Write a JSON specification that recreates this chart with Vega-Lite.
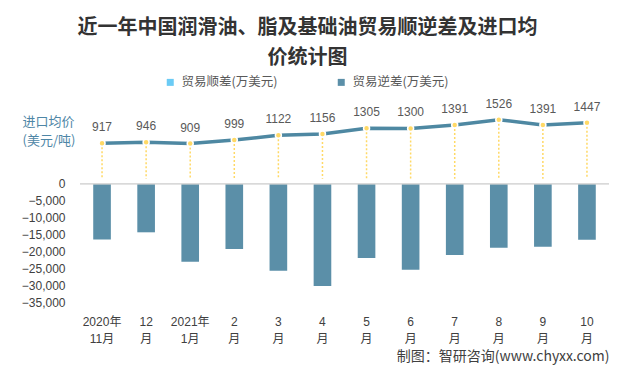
{
  "$schema": "https://vega.github.io/schema/vega-lite/v6.json",
  "autosize": "none",
  "width": 529,
  "height": 203,
  "padding": {"left": 80, "top": 99, "right": 8, "bottom": 68},
  "background": "white",
  "title": {
    "text": "近一年中国润滑油、脂及基础油贸易顺逆差及进口均",
    "subtitle": "价统计图",
    "fontSize": 20,
    "fontWeight": "bold",
    "font": "Noto Sans CJK SC",
    "color": "#333333",
    "subtitleFontSize": 20,
    "subtitleFontWeight": "bold",
    "subtitleFont": "Noto Sans CJK SC",
    "subtitleColor": "#333333",
    "subtitlePadding": 10,
    "anchor": "middle",
    "frame": "group",
    "dx": -37,
    "offset": 8
  },
  "data": {
    "values": [
      {"m": "2020年 11月", "deficit": -16500, "price": 917, "series": "贸易逆差(万美元)"},
      {"m": "12 月", "deficit": -14400, "price": 946, "series": "贸易逆差(万美元)"},
      {"m": "2021年 1月", "deficit": -23100, "price": 909, "series": "贸易逆差(万美元)"},
      {"m": "2 月", "deficit": -19300, "price": 999, "series": "贸易逆差(万美元)"},
      {"m": "3 月", "deficit": -25800, "price": 1122, "series": "贸易逆差(万美元)"},
      {"m": "4 月", "deficit": -30300, "price": 1156, "series": "贸易逆差(万美元)"},
      {"m": "5 月", "deficit": -22000, "price": 1305, "series": "贸易逆差(万美元)"},
      {"m": "6 月", "deficit": -25500, "price": 1300, "series": "贸易逆差(万美元)"},
      {"m": "7 月", "deficit": -21100, "price": 1391, "series": "贸易逆差(万美元)"},
      {"m": "8 月", "deficit": -19000, "price": 1526, "series": "贸易逆差(万美元)"},
      {"m": "9 月", "deficit": -18700, "price": 1391, "series": "贸易逆差(万美元)"},
      {"m": "10 月", "deficit": -16600, "price": 1447, "series": "贸易逆差(万美元)"}
    ]
  },
  "encoding": {
    "x": {
      "field": "m",
      "type": "nominal",
      "sort": null,
      "scale": {"paddingInner": 0.6, "paddingOuter": 0.3},
      "axis": {
        "title": "制图：智研咨询(www.chyxx.com)",
        "titleAnchor": "end",
        "titleAlign": "right",
        "titleFontSize": 14,
        "titleFontWeight": "normal",
        "titleColor": "#404040",
        "titleFont": "Noto Sans CJK SC",
        "titlePadding": 5,
        "labelAngle": 0,
        "labelExpr": "split(datum.label, ' ')",
        "labelFontSize": 12,
        "labelColor": "#404040",
        "labelFont": "Liberation Sans, Noto Sans CJK SC",
        "labelLineHeight": 17,
        "labelBaseline": "top",
        "labelPadding": 14,
        "domain": false,
        "ticks": false,
        "grid": false
      }
    }
  },
  "layer": [
    {
      "layer": [
        {
          "mark": {"type": "bar"},
          "encoding": {
            "y": {
              "field": "deficit",
              "type": "quantitative",
              "scale": {"domain": [-35000, 25000], "nice": false, "zero": false},
              "axis": {
                "title": null,
                "values": [0, -5000, -10000, -15000, -20000, -25000, -30000, -35000],
                "format": ",.0f",
                "labelOverlap": false,
                "labelFontSize": 12,
                "labelColor": "#404040",
                "labelFont": "Liberation Sans",
                "labelPadding": 15,
                "domain": false,
                "ticks": false,
                "grid": false
              }
            },
            "color": {
              "field": "series",
              "type": "nominal",
              "scale": {"domain": ["贸易顺差(万美元)", "贸易逆差(万美元)"], "range": ["#6BCBF5", "#5B8FA8"]},
              "legend": {
                "orient": "none",
                "legendX": 84,
                "legendY": -23,
                "direction": "horizontal",
                "title": null,
                "symbolType": "square",
                "symbolSize": 49,
                "symbolStrokeWidth": 0,
                "labelFontSize": 12.5,
                "labelColor": "#595959",
                "labelFont": "Noto Sans CJK SC",
                "columnPadding": 57,
                "padding": 0,
                "labelOffset": 5
              }
            }
          }
        },
        {
          "mark": {"type": "rule", "color": "#D9D9D9", "strokeWidth": 1},
          "encoding": {
            "y": {
              "datum": 0,
              "type": "quantitative",
              "axis": {
                "title": null,
                "values": [0, -5000, -10000, -15000, -20000, -25000, -30000, -35000],
                "format": ",.0f",
                "labelOverlap": false,
                "labelFontSize": 12,
                "labelColor": "#404040",
                "labelFont": "Liberation Sans",
                "labelPadding": 15,
                "domain": false,
                "ticks": false,
                "grid": false
              }
            },
            "x": null
          }
        }
      ]
    },
    {
      "encoding": {
        "y": {
          "field": "price",
          "type": "quantitative",
          "scale": {"domain": [-3180, 2059], "nice": false, "zero": false},
          "axis": {
            "orient": "right",
            "title": ["进口均价", "(美元/吨)"],
            "titleAngle": 0,
            "titleX": -587,
            "titleY": 16,
            "titleAlign": "left",
            "titleBaseline": "top",
            "titleFontSize": 13,
            "titleFontWeight": "normal",
            "titleColor": "#4E86A6",
            "titleFont": "Noto Sans CJK SC",
            "titleLineHeight": 19,
            "labels": false,
            "ticks": false,
            "domain": false,
            "grid": false
          }
        }
      },
      "layer": [
        {
          "mark": {"type": "rule", "color": "#FFD966", "strokeWidth": 1.5, "strokeDash": [2, 2]},
          "encoding": {"y2": {"datum": 0}}
        },
        {
          "mark": {"type": "line", "color": "#4E88A2", "strokeWidth": 3.5}
        },
        {
          "mark": {"type": "point", "filled": true, "fill": "#FFD966", "size": 36, "stroke": "white", "strokeWidth": 1.5, "opacity": 1}
        },
        {
          "mark": {"type": "text", "dy": -16, "baseline": "middle", "fontSize": 12, "color": "#595959", "font": "Liberation Sans"},
          "encoding": {"text": {"field": "price", "type": "quantitative", "format": "d"}}
        }
      ]
    }
  ],
  "resolve": {"scale": {"y": "independent"}, "axis": {"y": "independent"}},
  "config": {"view": {"stroke": null}}
}
